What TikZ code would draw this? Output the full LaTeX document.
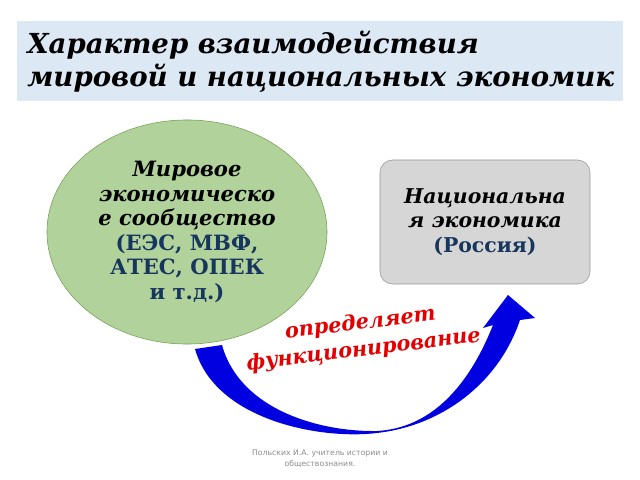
\documentclass[tikz,border=0pt]{standalone}
\usepackage{fontspec}
\setmainfont{DejaVu Serif}
\setsansfont{DejaVu Sans}
\usetikzlibrary{shapes.geometric}
\definecolor{titlebg}{RGB}{221,232,245}
\definecolor{worldgreen}{RGB}{178,210,155}
\definecolor{worldedge}{RGB}{118,160,88}
\definecolor{nationgray}{RGB}{214,214,214}
\definecolor{nationedge}{RGB}{150,150,150}
\definecolor{navytext}{RGB}{23,54,93}
\definecolor{arrowblue}{RGB}{0,0,225}
\definecolor{labelred}{RGB}{228,0,0}
\tikzset{
    titlebox/.style={
        rectangle, fill=titlebg, inner sep=0pt,
        minimum width=15.15cm, minimum height=2cm
    },
    heading/.style={
        anchor=west, align=left, inner sep=0pt,
        font=\fontsize{19.6}{23.5}\selectfont\bfseries\itshape
    },
    world/.style={
        ellipse, draw=worldedge, fill=worldgreen, thin,
        minimum width=7cm, minimum height=5.6cm,
        align=center, inner sep=0pt,
        font=\fontsize{15}{17.5}\selectfont\bfseries
    },
    nation/.style={
        rectangle, rounded corners=9pt,
        draw=nationedge, fill=nationgray, thin,
        minimum width=5.25cm, minimum height=3.1cm,
        align=center, inner sep=0pt,
        font=\fontsize{14.5}{17.5}\selectfont\bfseries
    },
    flowarrow/.style={fill=arrowblue, draw=none},
    flowlabel/.style={
        text=labelred, align=center, inner sep=0pt, rotate=7,
        font=\fontsize{14.8}{19}\selectfont\bfseries\itshape
    },
    footnote/.style={
        text=black!45, align=center, inner sep=0pt,
        font=\sffamily\fontsize{5.5}{7.8}\selectfont
    }
}
\newcommand{\navy}[1]{{\upshape\color{navytext}#1}}

\begin{document}
\begin{tikzpicture}[x=0.025cm, y=-0.025cm]
    \useasboundingbox[fill=white] (0,0) rectangle (640,480);

    % title
    \node[titlebox] (tb) at (320,61) {};
    \node[heading] (title) at (27,62)
        {Характер взаимодействия\\мировой и национальных экономик};

    % two economies
    \node[world] (w) at (187,232)
        {\itshape Мировое\\\itshape экономическо\\\itshape е сообщество\\
         \navy{(ЕЭС, МВФ,}\\\navy{АТЕС, ОПЕК}\\\navy{и т.д.)}};
    \node[nation] (n) at (485,222)
        {\itshape Национальна\\\itshape я экономика\\\navy{(Россия)}};

    % curved arrow from w to n
    \coordinate (tail) at (208,347);
    \coordinate (tip) at (508,295);
    \fill[flowarrow] (195,349)
        .. controls (215,420) and (320,440) .. (377,433)
        .. controls (440,426) and (498,385) .. (520,320)
        -- (535,318) -- (tip) -- (483,328) -- (493,325)
        .. controls (468,388) and (430,428) .. (377,431)
        .. controls (320,432) and (240,410) .. (222,345) -- cycle;

    \node[flowlabel] (lbl) at (362,337) {определяет\\функционирование};

    \node[footnote] (fn) at (320,459)
        {Польских И.А. учитель истории и\\обществознания.};
\end{tikzpicture}
\end{document}
